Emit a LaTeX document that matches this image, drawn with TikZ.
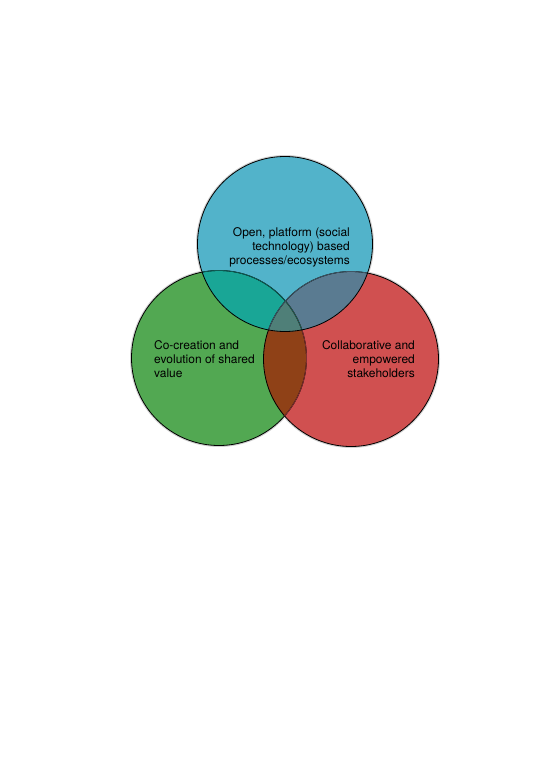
\documentclass[tikz,border=0pt]{standalone}
\usepackage{fontspec}
\setmainfont{TeX Gyre Heros}

\definecolor{openblue}{HTML}{52B3CA}
\definecolor{cocregreen}{HTML}{52A852}
\definecolor{collabred}{HTML}{D05050}
\definecolor{tealmix}{HTML}{19A696}
\definecolor{slatemix}{HTML}{5A7B91}
\definecolor{brownmix}{HTML}{8F4117}
\definecolor{centremix}{HTML}{4F7F78}

\tikzset{
  venntext/.style={font=\fontsize{12}{14}\selectfont, inner sep=0pt},
  rim/.style={line width=0.8bp},
  halo/.style={black!18, line width=3bp}
}

\begin{document}
\begin{tikzpicture}[x=1bp,y=-1bp]

\useasboundingbox (0,0) rectangle (559,782);

\def\rad{87.5bp}
\coordinate (open) at (285,244);
\coordinate (cocre) at (219,358);
\coordinate (collab) at (351,359);

% soft shadow
\draw[halo] (cocre) circle (\rad);
\draw[halo] (collab) circle (\rad);
\draw[halo] (open) circle (\rad);

% plain fills
\fill[cocregreen] (cocre) circle (\rad);
\fill[collabred] (collab) circle (\rad);
\fill[openblue] (open) circle (\rad);

% overlaps
\begin{scope}
\clip (cocre) circle (\rad);
\fill[tealmix] (open) circle (\rad);
\fill[brownmix] (collab) circle (\rad);
\end{scope}
\begin{scope}
\clip (collab) circle (\rad);
\fill[slatemix] (open) circle (\rad);
\end{scope}
\begin{scope}
\clip (cocre) circle (\rad);
\clip (collab) circle (\rad);
\fill[centremix] (open) circle (\rad);
\end{scope}

% outlines
\draw[rim] (cocre) circle (\rad);
\draw[rim] (collab) circle (\rad);
\begin{scope}
\clip (collab) circle (\rad);
\draw[rim, collabred!60!black] (cocre) circle (\rad);
\end{scope}
\begin{scope}
\clip (open) circle (\rad);
\draw[rim, tealmix!55!black] (cocre) circle (\rad);
\draw[rim, slatemix!70!black] (collab) circle (\rad);
\end{scope}
\draw[rim] (open) circle (\rad);

% labels
\node[venntext, anchor=east, align=right] (opentext) at (350,247)
  {Open, platform (social\\technology) based\\processes/ecosystems};
\node[venntext, anchor=west, align=left] (cocretext) at (154,359)
  {Co-creation and\\evolution of shared\\value};
\node[venntext, anchor=east, align=right] (collabtext) at (415,359)
  {Collaborative and\\empowered\\stakeholders};

\end{tikzpicture}
\end{document}
